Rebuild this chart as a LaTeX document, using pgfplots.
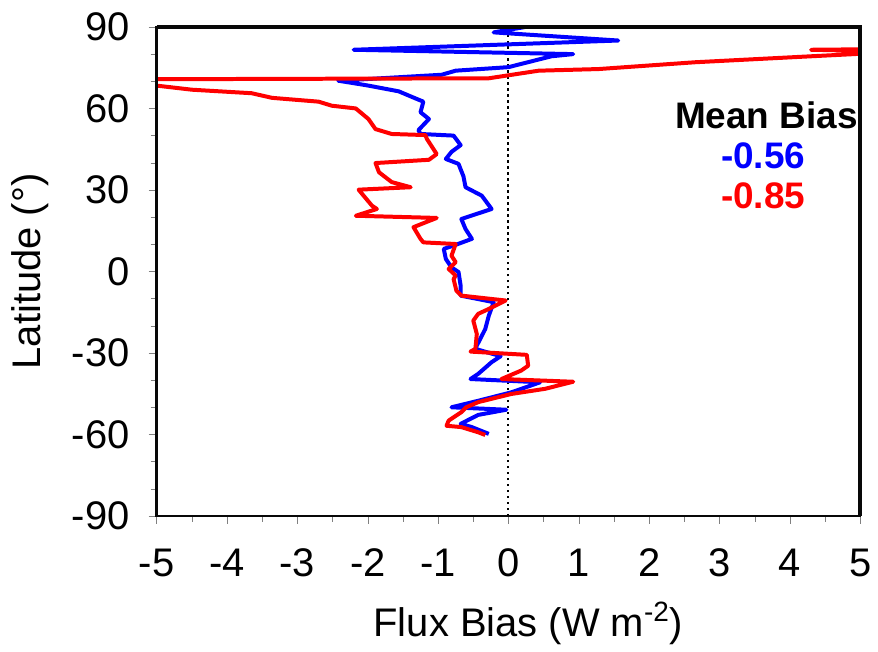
\documentclass[border=0pt]{standalone}
\usepackage{fontspec}
\setmainfont{Liberation Sans}
\usepackage{pgfplots}
\pgfplotsset{compat=1.18}
\definecolor{framec}{RGB}{8,8,8}

\begin{document}
\begin{tikzpicture}
\path (-78.5pt,-64.5pt) rectangle (360.5pt,258.5pt);
\begin{axis}[
  scale only axis,
  width=352.5pt, height=245pt,
  xmin=-5, xmax=5, ymin=-90, ymax=90,
  xtick={-5,...,5}, minor xtick={-4.5,-3.5,...,4.5},
  ytick={-90,-60,...,90}, minor ytick={-80,-70,-50,-40,-20,-10,10,20,40,50,70,80},
  tick align=outside, xtick pos=bottom, ytick pos=left,
  major tick length=4pt, minor tick length=3pt,
  axis line style={line width=1.2pt},
  /pgf/number format/assume math mode=true,
  tick label style={font=\fontsize{20}{24}\selectfont},
  xticklabel style={yshift=-9pt},
  yticklabel style={xshift=-6pt},
  xlabel={Flux Bias (W m\textsuperscript{-2})},
  ylabel={Latitude (°)},
  label style={font=\fontsize{20}{24}\selectfont},
  xlabel style={at={(axis description cs:0.5,0)}, anchor=center, yshift=-54pt, xshift=10pt},
  ylabel style={at={(axis description cs:-0.18,0.5)}, anchor=center},
]
\addplot[black, line width=1pt, dash pattern=on 1.2pt off 1.8pt] coordinates {(0,-90) (0,90)};
\addplot[blue, line width=2pt, line join=round] coordinates {
(-0.28,-59.8) (-0.52,-57.3) (-0.68,-56.1) (-0.43,-52.8) (-0.03,-50.9) (-0.81,-50)
(-0.43,-47.6) (0.04,-44.5) (0.45,-40.8) (-0.54,-39.6) (-0.43,-37.7) (-0.24,-33.4)
(-0.11,-31.2) (-0.47,-28.5) (-0.45,-27.3) (-0.33,-21.2) (-0.28,-16.3) (-0.21,-11.3)
(-0.68,-8.9) (-0.68,-5.2) (-0.71,-0.2) (-0.81,1.5) (-0.89,4.6) (-0.92,8.3)
(-0.75,9.8) (-0.52,12) (-0.61,15.6) (-0.67,19.3) (-0.24,23) (-0.38,27.9)
(-0.61,31) (-0.64,35) (-0.71,39.6) (-0.89,41.4) (-0.81,44) (-0.68,46.5)
(-0.78,50) (-1.25,50.6) (-1.28,52) (-1.13,56.1) (-1.25,58.6) (-1.21,62.5)
(-1.35,64) (-1.56,66.3) (-1.99,68.4) (-2.2,69.3) (-2.42,70.2) (-0.95,72.4)
(-0.75,73.9) (0,75.2) (0.61,79.2) (0.92,80) (-2.2,81.6) (1.56,85)
(-0.21,88) (0.24,90)
};
\addplot[red, line width=2pt, line join=round] coordinates {
(-0.33,-60.2) (-0.43,-59.2) (-0.67,-57.3) (-0.88,-56.8) (-0.85,-54.9) (-0.67,-51.8)
(-0.6,-50) (-0.43,-48.1) (0.04,-45.1) (0.52,-43.2) (0.92,-40.6) (-0.1,-39.6)
(0.18,-36.5) (0.28,-34.7) (0.26,-30.7) (-0.54,-29.5) (-0.47,-28.5) (-0.45,-23)
(-0.5,-18.1) (-0.43,-15.6) (-0.28,-13.8) (-0.04,-10.7) (-0.67,-8.9) (-0.74,-7.1)
(-0.78,-2.8) (-0.75,-1.5) (-0.85,0.9) (-0.75,3.4) (-0.81,5.8) (-0.75,10.1)
(-1.21,10.7) (-1.25,12) (-1.35,16.3) (-1.02,19.7) (-2.17,20.5) (-1.87,23)
(-1.94,24.2) (-2.13,30.1) (-1.39,31) (-1.66,32.9) (-1.84,36.5) (-1.89,39.9)
(-1.13,41.1) (-1.02,43.2) (-1.16,48.8) (-1.18,50.2) (-1.66,50.6) (-1.89,52.4)
(-1.99,56.1) (-2.17,60) (-2.51,61) (-2.7,62.5) (-3.36,63.9) (-3.65,65.6)
(-4.5,66.9) (-5,68.4) (-5.8,69.5) (-5.8,70.7) (-0.28,71.1) (0.43,73.9)
(1.28,74.5) (2.65,77) (4.3,79.2) (5.6,80.9) (4.3,81.6) (5.6,81.9)
};
\node[anchor=east, inner sep=0pt, font=\fontsize{18.5}{22}\selectfont\bfseries] at (axis cs:4.97,57.6) {Mean Bias};
\node[anchor=center, inner sep=0pt, text=blue, font=\fontsize{18.5}{22}\selectfont\bfseries] at (axis cs:3.62,42.5) {-0.56};
\node[anchor=center, inner sep=0pt, text=red, font=\fontsize{18.5}{22}\selectfont\bfseries] at (axis cs:3.62,27.8) {-0.85};
\end{axis}
\draw[framec, line width=2.2pt] (0,245pt) -- (352.5pt,245pt) -- (352.5pt,0);
\draw[framec, line width=1.2pt] (0,0) rectangle (352.5pt,245pt);
\end{tikzpicture}
\end{document}
